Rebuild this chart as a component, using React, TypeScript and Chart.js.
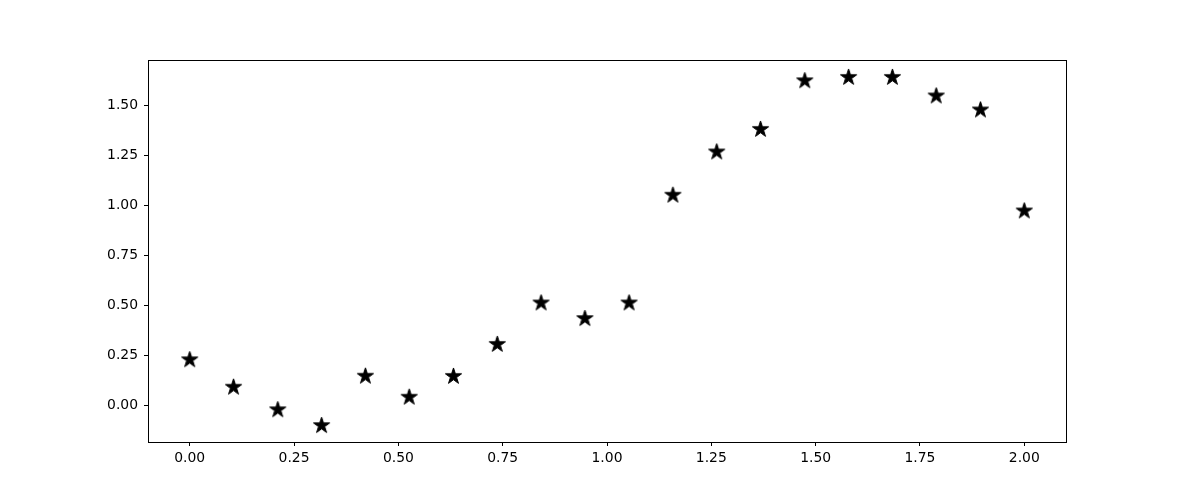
import { useEffect, useRef } from "react"
import { Chart, registerables } from "chart.js"

Chart.register(...registerables)

// Data (x evenly spaced 0..2, 20 points)
const xValues = [
  0.0, 0.105, 0.211, 0.316, 0.421, 0.526, 0.632, 0.737, 0.842, 0.947,
  1.053, 1.158, 1.263, 1.368, 1.474, 1.579, 1.684, 1.789, 1.895, 2.0,
]
const yValues = [
  0.226, 0.089, -0.024, -0.103, 0.144, 0.039, 0.143, 0.303, 0.51, 0.432,
  0.51, 1.049, 1.265, 1.378, 1.621, 1.638, 1.638, 1.545, 1.475, 0.97,
]

const xTickValues = [0, 0.25, 0.5, 0.75, 1, 1.25, 1.5, 1.75, 2]
const xTickLabels = ["0.00", "0.25", "0.50", "0.75", "1.00", "1.25", "1.50", "1.75", "2.00"]
const yTickValues = [0, 0.25, 0.5, 0.75, 1, 1.25, 1.5]
const yTickLabels = ["0.00", "0.25", "0.50", "0.75", "1.00", "1.25", "1.50"]

const FONT = "'DejaVu Sans', sans-serif"

// filled five-pointed star, like matplotlib's "*" marker
function makeStar(radius: number) {
  const size = Math.ceil(radius * 2 + 2)
  const c = document.createElement("canvas")
  c.width = size
  c.height = size
  const ctx = c.getContext("2d")!
  const cx = size / 2
  const cy = size / 2
  const inner = radius * 0.381966
  ctx.beginPath()
  for (let i = 0; i < 10; i++) {
    const r = i % 2 === 0 ? radius : inner
    const a = -Math.PI / 2 + (i * Math.PI) / 5
    const px = cx + r * Math.cos(a)
    const py = cy + r * Math.sin(a)
    if (i === 0) ctx.moveTo(px, py)
    else ctx.lineTo(px, py)
  }
  ctx.closePath()
  ctx.fillStyle = "#000"
  ctx.fill()
  ctx.lineWidth = 1
  ctx.strokeStyle = "#000"
  ctx.stroke()
  return c
}

// draws the full axes box (matplotlib spines)
const frameBox = {
  id: "frameBox",
  afterDraw(chart: Chart) {
    const { ctx, chartArea } = chart
    ctx.save()
    ctx.strokeStyle = "#000"
    ctx.lineWidth = 1
    ctx.strokeRect(
      Math.round(chartArea.left) + 0.5,
      Math.round(chartArea.top) + 0.5,
      Math.round(chartArea.right - chartArea.left),
      Math.round(chartArea.bottom - chartArea.top)
    )
    ctx.restore()
  },
}

export default function App() {
  const chartRef = useRef<HTMLCanvasElement>(null)
  const chartInstance = useRef<Chart | null>(null)

  useEffect(() => {
    if (!chartRef.current) return
    if (chartInstance.current) chartInstance.current.destroy()

    const ctx = chartRef.current.getContext("2d")
    if (!ctx) return

    const star = makeStar(8.5)

    chartInstance.current = new Chart(ctx, {
      type: "scatter",
      data: {
        datasets: [
          {
            data: xValues.map((x, i) => ({ x, y: yValues[i] })),
            pointStyle: star,
            pointRadius: 8,
            backgroundColor: "#000",
            borderColor: "#000",
          },
        ],
      },
      options: {
        animation: false,
        responsive: true,
        maintainAspectRatio: false,
        layout: { padding: { top: 60, right: 118, left: 0, bottom: 0 } },
        plugins: {
          legend: { display: false },
          tooltip: { enabled: false },
        },
        scales: {
          x: {
            type: "linear",
            min: -0.1,
            max: 2.1,
            afterBuildTicks: (scale) => {
              scale.ticks = xTickValues.map((value) => ({ value }))
            },
            afterFit: (scale) => {
              scale.height = 55
            },
            grid: {
              drawOnChartArea: false,
              tickLength: 4,
              color: "#000",
              tickColor: "#000",
            },
            border: { display: false },
            ticks: {
              color: "#000",
              padding: 4,
              maxRotation: 0,
              autoSkip: false,
              font: { family: FONT, size: 13.9 },
              callback: (value) => {
                const i = xTickValues.indexOf(Number(value))
                return i >= 0 ? xTickLabels[i] : ""
              },
            },
          },
          y: {
            type: "linear",
            min: -0.185,
            max: 1.725,
            afterBuildTicks: (scale) => {
              scale.ticks = yTickValues.map((value) => ({ value }))
            },
            afterFit: (scale) => {
              scale.width = 148
            },
            grid: {
              drawOnChartArea: false,
              tickLength: 4,
              color: "#000",
              tickColor: "#000",
            },
            border: { display: false },
            ticks: {
              color: "#000",
              padding: 6,
              autoSkip: false,
              font: { family: FONT, size: 13.9 },
              callback: (value) => {
                const i = yTickValues.indexOf(Number(value))
                return i >= 0 ? yTickLabels[i] : ""
              },
            },
          },
        },
      },
      plugins: [frameBox],
    })

    return () => {
      if (chartInstance.current) {
        chartInstance.current.destroy()
        chartInstance.current = null
      }
    }
  }, [])

  return (
    <div
      style={{
        position: "fixed",
        left: 0,
        top: 0,
        width: 1184,
        height: 497,
        background: "#fff",
      }}
    >
      <canvas ref={chartRef} aria-label="Star scatter chart"></canvas>
    </div>
  )
}
